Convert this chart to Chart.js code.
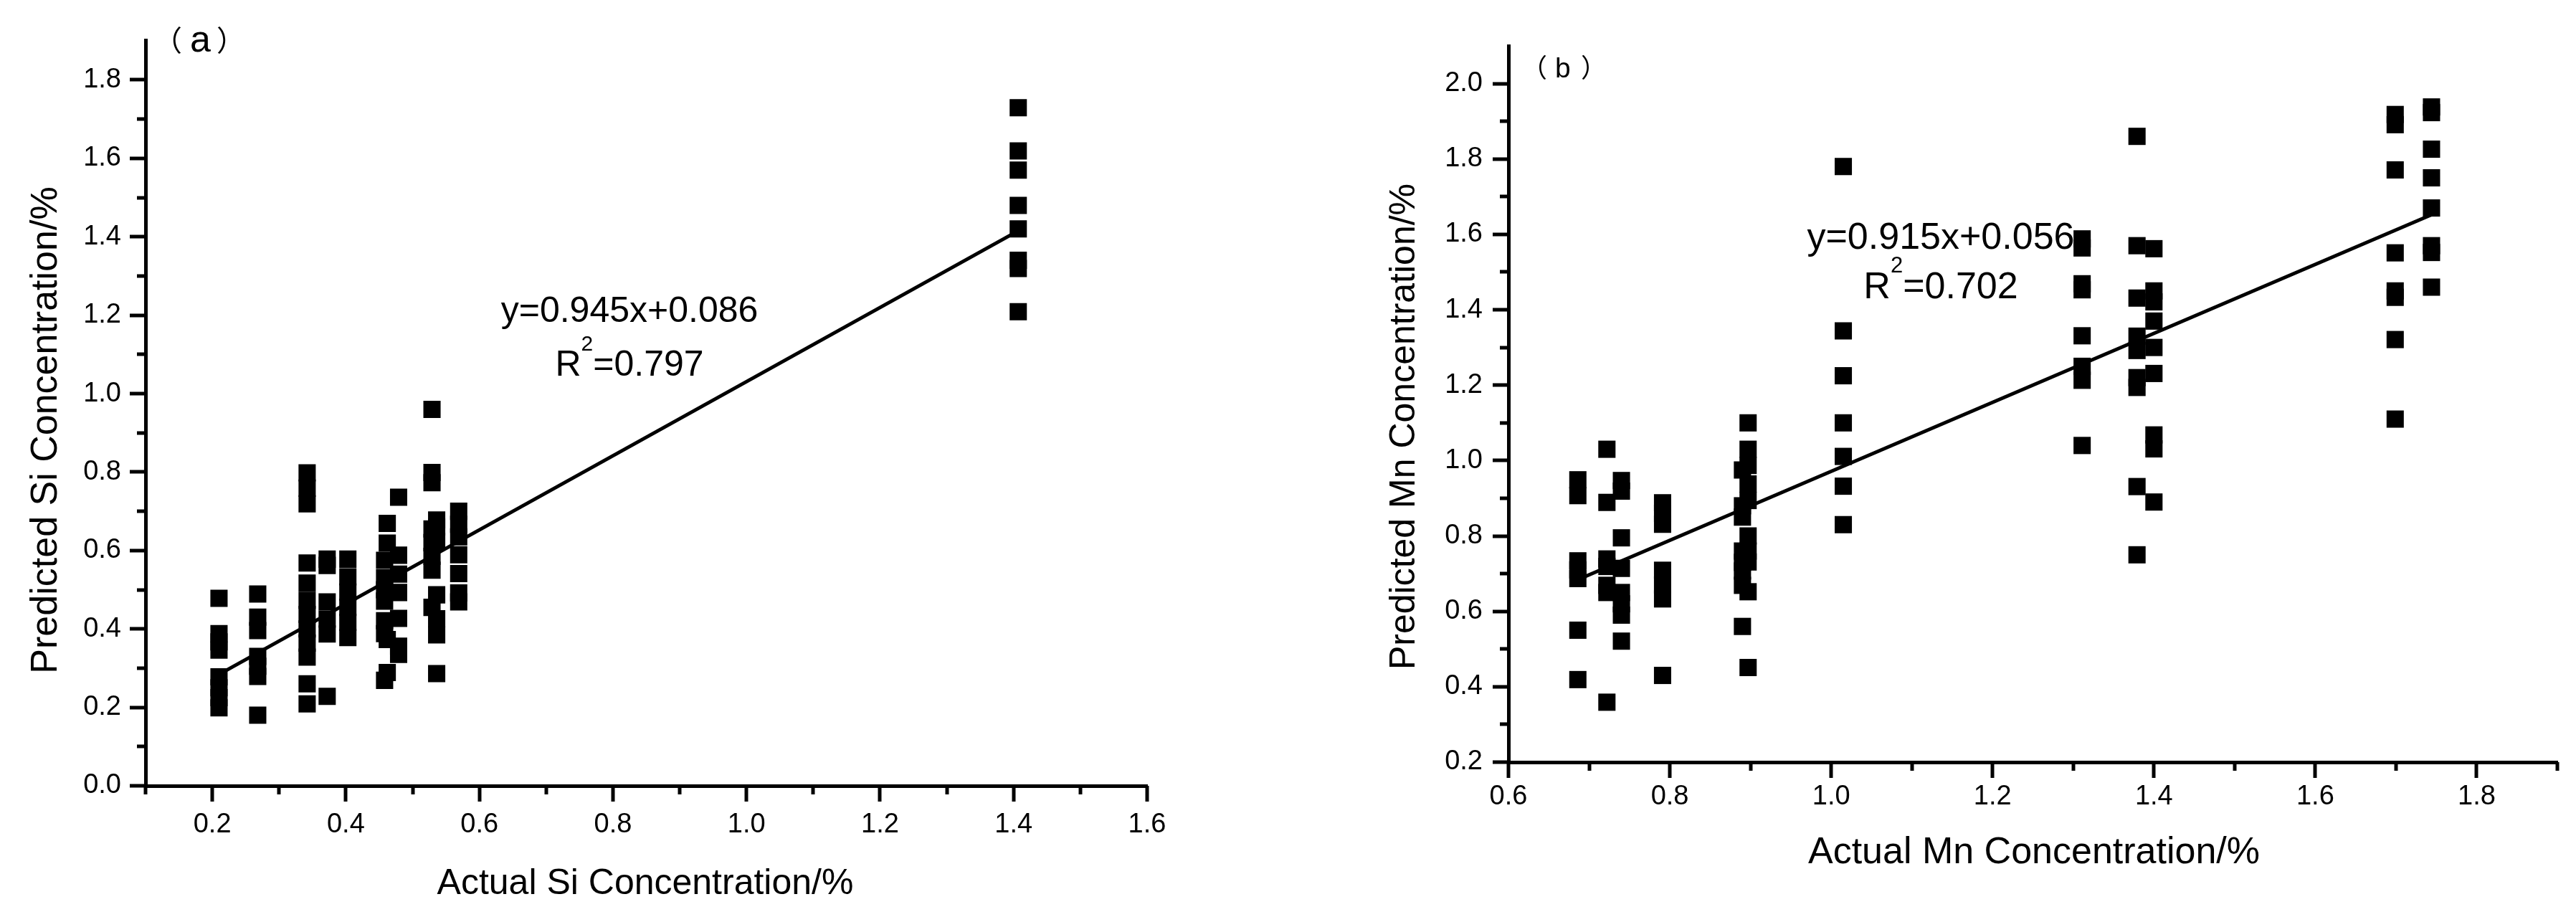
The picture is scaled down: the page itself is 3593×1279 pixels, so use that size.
<!DOCTYPE html>
<html>
<head>
<meta charset="utf-8">
<script src="https://cdn.jsdelivr.net/npm/chart.js@4.4.1/dist/chart.umd.min.js"></script>
<style>
  html, body { margin: 0; padding: 0; background: #fff; }
  #wrap { position: relative; width: 3593px; height: 1279px; background: #fff; }
  canvas { position: absolute; top: 0; }
  #si { left: 0; }
  #mn { left: 1793px; }
</style>
</head>
<body>
<div id="wrap">
  <canvas id="si" width="1793" height="1279"></canvas>
  <canvas id="mn" width="1800" height="1279"></canvas>
</div>
<script>
// ---- panel (a): Si ----
// one entry per column of samples: actual value, then the predicted values at it
var siActual = [0.21, 0.268, 0.342, 0.372, 0.403, 0.458, 0.462, 0.479, 0.529, 0.536, 0.569, 1.407];
var siPredicted = [
  [0.478, 0.388, 0.367, 0.346, 0.278, 0.25, 0.225, 0.199],
  [0.489, 0.43, 0.396, 0.33, 0.305, 0.279, 0.18],
  [0.798, 0.759, 0.719, 0.568, 0.517, 0.473, 0.437, 0.40, 0.364, 0.328, 0.26, 0.209],
  [0.578, 0.562, 0.469, 0.425, 0.387, 0.228],
  [0.578, 0.533, 0.494, 0.455, 0.417, 0.378],
  [0.575, 0.53, 0.50, 0.471, 0.421, 0.388, 0.269],
  [0.669, 0.619, 0.373, 0.289],
  [0.736, 0.588, 0.54, 0.493, 0.427, 0.356, 0.335],
  [0.96, 0.799, 0.773, 0.655, 0.62, 0.585, 0.55, 0.455],
  [0.678, 0.66, 0.624, 0.487, 0.426, 0.385, 0.286],
  [0.70, 0.667, 0.635, 0.589, 0.541, 0.492, 0.469],
  [1.729, 1.619, 1.57, 1.48, 1.42, 1.34, 1.319, 1.209]
];
var siFitX = [0.21, 1.41];
var siFitY = [0.284, 1.418];
var siTicksX = [0.1, 0.2, 0.3, 0.4, 0.5, 0.6, 0.7, 0.8, 0.9, 1.0, 1.1, 1.2, 1.3, 1.4, 1.5, 1.6];
var siLabelsX = [0.2, 0.4, 0.6, 0.8, 1.0, 1.2, 1.4, 1.6];
var siTicksY = [0.0, 0.1, 0.2, 0.3, 0.4, 0.5, 0.6, 0.7, 0.8, 0.9, 1.0, 1.1, 1.2, 1.3, 1.4, 1.5, 1.6, 1.7, 1.8];
var siLabelsY = [0.0, 0.2, 0.4, 0.6, 0.8, 1.0, 1.2, 1.4, 1.6, 1.8];

// ---- panel (b): Mn ----
var mnActual = [0.686, 0.722, 0.740, 0.791, 0.890, 0.897, 1.015, 1.311, 1.379, 1.400, 1.699, 1.744];
var mnPredicted = [
  [0.949, 0.907, 0.734, 0.71, 0.687, 0.55, 0.419],
  [1.03, 0.889, 0.739, 0.719, 0.669, 0.65, 0.359],
  [0.947, 0.919, 0.795, 0.714, 0.65, 0.62, 0.59, 0.521],
  [0.888, 0.86, 0.831, 0.709, 0.67, 0.633, 0.43],
  [0.975, 0.88, 0.85, 0.76, 0.73, 0.707, 0.669, 0.56],
  [1.10, 1.03, 0.987, 0.938, 0.894, 0.80, 0.76, 0.731, 0.652, 0.451],
  [1.78, 1.344, 1.225, 1.10, 1.011, 0.932, 0.83],
  [1.588, 1.564, 1.469, 1.453, 1.331, 1.25, 1.213, 1.04],
  [1.86, 1.57, 1.431, 1.33, 1.292, 1.22, 1.194, 0.931, 0.75],
  [1.562, 1.45, 1.421, 1.37, 1.30, 1.231, 1.068, 1.031, 0.89],
  [1.918, 1.891, 1.771, 1.551, 1.45, 1.433, 1.321, 1.11],
  [1.938, 1.923, 1.826, 1.75, 1.67, 1.57, 1.552, 1.46]
];
var mnFitX = [0.688, 1.744];
var mnFitY = [0.686, 1.652];
var mnTicksX = [0.6, 0.7, 0.8, 0.9, 1.0, 1.1, 1.2, 1.3, 1.4, 1.5, 1.6, 1.7, 1.8, 1.9];
var mnLabelsX = [0.6, 0.8, 1.0, 1.2, 1.4, 1.6, 1.8];
var mnTicksY = [0.2, 0.3, 0.4, 0.5, 0.6, 0.7, 0.8, 0.9, 1.0, 1.1, 1.2, 1.3, 1.4, 1.5, 1.6, 1.7, 1.8, 1.9, 2.0];
var mnLabelsY = [0.2, 0.4, 0.6, 0.8, 1.0, 1.2, 1.4, 1.6, 1.8, 2.0];

var FONT = '"Liberation Sans", Arial, sans-serif';
var CJK = '"Noto Sans CJK SC", "Noto Sans", sans-serif';

function toPoints(xs, ys) {
  var pts = [];
  xs.forEach(function(x, i) {
    ys[i].forEach(function(y) { pts.push({x: x, y: y}); });
  });
  return pts;
}

function linePoints(xs, ys) {
  return xs.map(function(x, i) { return {x: x, y: ys[i]}; });
}

function hasValue(list, v) {
  return list.some(function(l) { return Math.abs(l - v) < 1e-6; });
}

// outward tick marks, long ones where a label is printed
var tickMarks = {
  id: 'tickMarks',
  afterDraw: function(chart, args, opts) {
    var ctx = chart.ctx;
    ctx.save();
    ctx.strokeStyle = '#000';
    ctx.lineWidth = 5;
    ['x', 'y'].forEach(function(id) {
      var s = chart.scales[id];
      s.ticks.forEach(function(t) {
        var len = t.label !== '' ? opts.major : opts.minor;
        var p = Math.round(s.getPixelForValue(t.value));
        ctx.beginPath();
        if (id === 'x') {
          ctx.moveTo(p, s.top); ctx.lineTo(p, s.top + len);
        } else {
          ctx.moveTo(s.right, p); ctx.lineTo(s.right - len, p);
        }
        ctx.stroke();
      });
    });
    ctx.restore();
  }
};

// place a glyph by its visible box (left edge, bottom edge)
function glyph(ctx, text, font, left, bottom) {
  ctx.font = font;
  ctx.textAlign = 'left';
  ctx.textBaseline = 'alphabetic';
  var m = ctx.measureText(text);
  ctx.fillText(text, left + m.actualBoundingBoxLeft, bottom - m.actualBoundingBoxDescent);
}

var figText = {
  id: 'figText',
  afterDraw: function(chart, args, o) {
    var ctx = chart.ctx;
    ctx.save();
    ctx.fillStyle = '#000';

    // panel tag like （a）
    glyph(ctx, '\uFF08', o.tag.parenSize + 'px ' + CJK, o.tag.l1, o.tag.parenBottom);
    glyph(ctx, o.tag.letter, o.tag.letterSize + 'px ' + FONT, o.tag.l2, o.tag.letterBottom);
    glyph(ctx, '\uFF09', o.tag.parenSize + 'px ' + CJK, o.tag.l3, o.tag.parenBottom);

    // regression equation
    ctx.textBaseline = 'alphabetic';
    ctx.textAlign = 'center';
    ctx.font = o.eq.size + 'px ' + FONT;
    ctx.fillText(o.eq.text, o.eq.cx, o.eq.base);

    // R^2 line with raised 2
    var f = o.eq.size, sf = Math.round(f * 0.6);
    ctx.font = f + 'px ' + FONT;
    var wR = ctx.measureText('R').width;
    var wRest = ctx.measureText(o.eq.r2).width;
    ctx.font = sf + 'px ' + FONT;
    var wSup = ctx.measureText('2').width;
    var x0 = o.eq.cx - (wR + wSup + wRest) / 2;
    ctx.textAlign = 'left';
    ctx.font = f + 'px ' + FONT;
    ctx.fillText('R', x0, o.eq.base2);
    ctx.fillText(o.eq.r2, x0 + wR + wSup, o.eq.base2);
    ctx.font = sf + 'px ' + FONT;
    ctx.fillText('2', x0 + wR, o.eq.base2 - f * 0.7);

    // axis titles
    ctx.textAlign = 'center';
    ctx.font = o.xTitle.size + 'px ' + FONT;
    ctx.fillText(o.xTitle.text, o.xTitle.cx, o.xTitle.base);
    ctx.translate(o.yTitle.base, o.yTitle.cy);
    ctx.rotate(-Math.PI / 2);
    ctx.font = o.yTitle.size + 'px ' + FONT;
    ctx.fillText(o.yTitle.text, 0, 0);
    ctx.restore();
  }
};

function makeChart(el, cfg) {
  return new Chart(document.getElementById(el), {
    type: 'scatter',
    data: {
      datasets: [{
        data: toPoints(cfg.actual, cfg.predicted),
        pointStyle: 'rect',
        pointRadius: 17,
        pointHoverRadius: 17,
        backgroundColor: '#000',
        borderColor: '#000',
        borderWidth: 0
      }, {
        data: linePoints(cfg.fitX, cfg.fitY),
        showLine: true,
        borderColor: '#000',
        borderWidth: 5,
        pointRadius: 0,
        fill: false
      }]
    },
    options: {
      responsive: false,
      devicePixelRatio: 1,
      animation: false,
      events: [],
      layout: { padding: cfg.padding },
      plugins: {
        legend: { display: false },
        tooltip: { enabled: false },
        tickMarks: { major: 22, minor: 12 },
        figText: cfg.text
      },
      scales: {
        x: {
          type: 'linear',
          min: cfg.xMin, max: cfg.xMax,
          afterBuildTicks: function(s) { s.ticks = cfg.ticksX.map(function(v) { return {value: v}; }); },
          afterFit: function(s) { s.height = cfg.xAxisH; },
          grid: { display: false, drawTicks: false },
          border: { display: true, color: '#000', width: 5 },
          ticks: {
            autoSkip: false, maxRotation: 0, color: '#000', padding: cfg.xPad,
            font: { family: FONT, size: 38 },
            callback: function(v) { return hasValue(cfg.labelsX, v) ? v.toFixed(1) : ''; }
          }
        },
        y: {
          type: 'linear',
          min: cfg.yMin, max: cfg.yMax,
          afterBuildTicks: function(s) { s.ticks = cfg.ticksY.map(function(v) { return {value: v}; }); },
          afterFit: function(s) { s.width = cfg.yAxisW; },
          grid: { display: false, drawTicks: false },
          border: { display: true, color: '#000', width: 5 },
          ticks: {
            autoSkip: false, color: '#000', padding: cfg.yPad,
            font: { family: FONT, size: 38 },
            callback: function(v) { return hasValue(cfg.labelsY, v) ? v.toFixed(1) : ''; }
          }
        }
      }
    },
    plugins: [tickMarks, figText]
  });
}

makeChart('si', {
  actual: siActual, predicted: siPredicted, fitX: siFitX, fitY: siFitY,
  ticksX: siTicksX, labelsX: siLabelsX, ticksY: siTicksY, labelsY: siLabelsY,
  xMin: 0.1, xMax: 1.6, yMin: 0, yMax: 1.9,
  padding: { left: 0, top: 31, right: 193, bottom: 0 },
  yAxisW: 203, xAxisH: 183, xPad: 32, yPad: 34,
  text: {
    tag: { letter: 'a', parenSize: 40, letterSize: 52, l1: 241, l2: 267, l3: 303, parenBottom: 75, letterBottom: 73 },
    eq: { text: 'y=0.945x+0.086', r2: '=0.797', size: 50, cx: 878, base: 449, base2: 524 },
    xTitle: { text: 'Actual Si Concentration/%', size: 50, cx: 900, base: 1247 },
    yTitle: { text: 'Predicted Si Concentration/%', size: 52, base: 79, cy: 600 }
  }
});

makeChart('mn', {
  actual: mnActual, predicted: mnPredicted, fitX: mnFitX, fitY: mnFitY,
  ticksX: mnTicksX, labelsX: mnLabelsX, ticksY: mnTicksY, labelsY: mnLabelsY,
  xMin: 0.6, xMax: 1.9, yMin: 0.2, yMax: 2.1,
  padding: { left: 0, top: 64, right: 19, bottom: 0 },
  yAxisW: 311, xAxisH: 216, xPad: 26, yPad: 36,
  text: {
    tag: { letter: 'b', parenSize: 36, letterSize: 39, l1: 354, l2: 378, l3: 413, parenBottom: 111, letterBottom: 108 },
    eq: { text: 'y=0.915x+0.056', r2: '=0.702', size: 52, cx: 914, base: 347, base2: 416 },
    xTitle: { text: 'Actual Mn Concentration/%', size: 52, cx: 1044, base: 1204 },
    yTitle: { text: 'Predicted Mn Concentration/%', size: 50, base: 180, cy: 595 }
  }
});
</script>
</body>
</html>
